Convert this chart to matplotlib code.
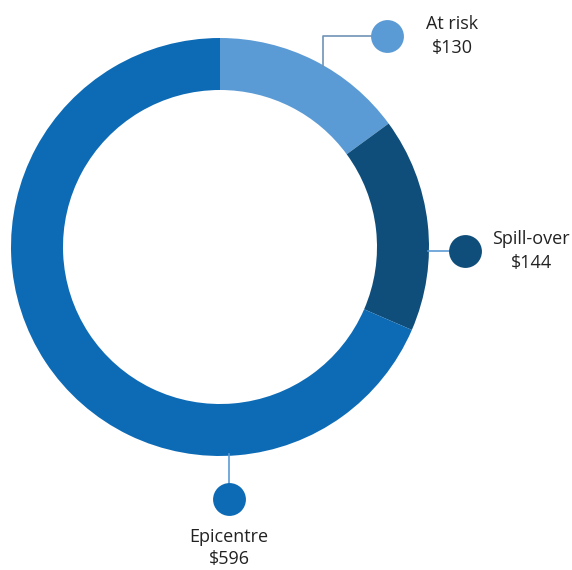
import matplotlib.pyplot as plt
import matplotlib

matplotlib.rcParams["font.family"] = ["Open Sans", "DejaVu Sans"]

# data
labels = ["At risk", "Spill-over", "Epicentre"]
values = [130, 144, 596]
colors = ["#5b9bd5", "#0f4e7b", "#0d6bb6"]
line_colors = ["#6f93b8", "#5b9bd5", "#5b9bd5"]

W, H = 572, 570
fig = plt.figure(figsize=(W / 100, H / 100), dpi=100)
ax = fig.add_axes([0, 0, 1, 1])

cx, cy, r = 220, H - 247, 209
ax.pie(values, colors=colors, startangle=90, counterclock=False,
       center=(cx, cy), radius=r, frame=True,
       wedgeprops=dict(width=52, linewidth=0))
ax.set_xlim(0, W)
ax.set_ylim(0, H)
ax.set_aspect("equal")
ax.axis("off")


# leader lines, dots, labels (pixel coords from top)
def P(x, y):
    return x, H - y


def callout(i, line_pts, dot, text_xy, ls=1.4):
    xs, ys = zip(*[P(*p) for p in line_pts])
    ax.plot(xs, ys, color=line_colors[i], lw=1.2, zorder=3)
    ax.scatter(*P(*dot), s=560, color=colors[i], zorder=4, linewidths=0)
    ax.text(*P(*text_xy), f"{labels[i]}\n${values[i]}", ha="center", va="center",
            fontsize=13, color="#222222", linespacing=ls)


callout(0, [(323, 66), (323, 36), (387, 36)], (387, 36), (452, 36))
callout(1, [(428, 251), (465, 251)], (465, 251), (531, 251))
callout(2, [(229, 454), (229, 499)], (229, 499), (229, 548), ls=1.3)

fig.savefig("out.png", dpi=100, facecolor="white")
